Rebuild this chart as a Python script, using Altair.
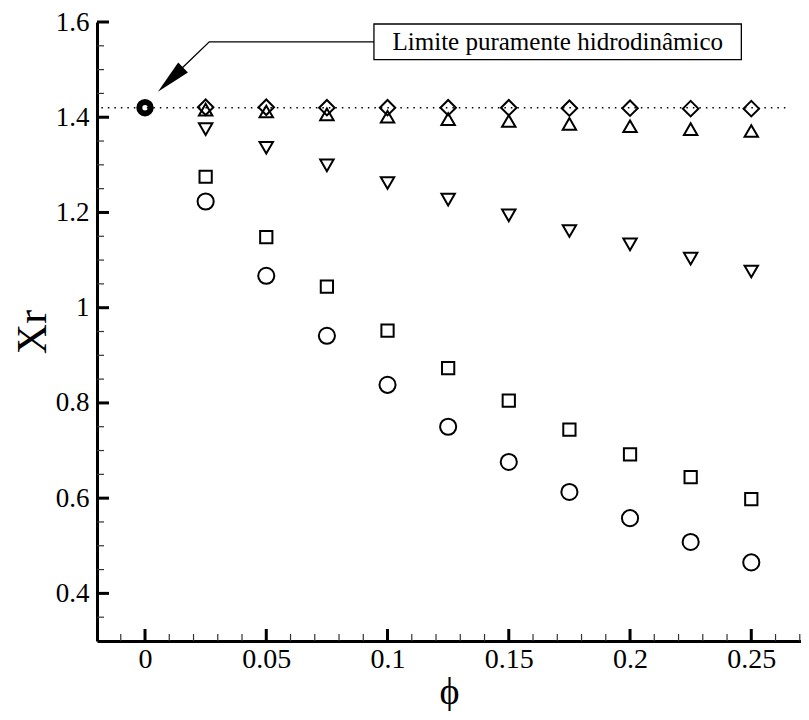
import altair as alt
import pandas as pd

# ---- data ----
phi = [0.025, 0.05, 0.075, 0.1, 0.125, 0.15, 0.175, 0.2, 0.225, 0.25]
xr_circle = [1.223, 1.067, 0.941, 0.838, 0.750, 0.676, 0.613, 0.558, 0.508, 0.465]
xr_square = [1.275, 1.148, 1.044, 0.952, 0.873, 0.805, 0.744, 0.692, 0.644, 0.598]
xr_tri_down = [1.375, 1.336, 1.299, 1.262, 1.227, 1.194, 1.161, 1.133, 1.103, 1.076]
xr_tri_up = [1.416, 1.412, 1.406, 1.401, 1.396, 1.392, 1.386, 1.381, 1.375, 1.371]
xr_diamond = [1.421, 1.421, 1.420, 1.420, 1.420, 1.420, 1.419, 1.419, 1.418, 1.418]

origin_x = [0.0]
origin_y = [1.42]
limit_x = [-0.018, 0.265]
limit_y = [1.42, 1.42]

x_major = [0, 0.05, 0.1, 0.15, 0.2, 0.25]
x_minor = [-0.01, 0.01, 0.02, 0.03, 0.04, 0.06, 0.07, 0.08, 0.09, 0.11, 0.12,
           0.13, 0.14, 0.16, 0.17, 0.18, 0.19, 0.21, 0.22, 0.23, 0.24, 0.26, 0.27]
y_major = [0.4, 0.6, 0.8, 1.0, 1.2, 1.4, 1.6]
y_minor = [0.35, 0.45, 0.5, 0.55, 0.65, 0.7, 0.75, 0.85, 0.9, 0.95, 1.05, 1.1,
           1.15, 1.25, 1.3, 1.35, 1.45, 1.5, 1.55]

annot_text = "Limite puramente hidrodinâmico"
box_x = [0.0944, 0.2459]
box_y = [1.5958, 1.5208]
text_pos = [0.1702, 1.5583]
leader_x = [0.0944, 0.0265, 0.0154]
leader_y = [1.5583, 1.5583, 1.504]
head_pos = [0.0105, 1.479]

X_DOMAIN = [-0.0198, 0.2705]
Y_DOMAIN = [0.3, 1.6]
W, H = 704, 619
FONT = "Liberation Serif, Times New Roman, serif"

xs = alt.Scale(domain=X_DOMAIN, nice=False, zero=False)
ys = alt.Scale(domain=Y_DOMAIN, nice=False, zero=False)

xaxis = alt.Axis(values=x_major, format="~g", labelFont=FONT, labelFontSize=28,
                 labelColor="black", labelPadding=4, labelOverlap=False, labelFlush=False,
                 domainColor="black", domainWidth=3, ticks=False, grid=False,
                 title="ϕ", titleFont=FONT, titleFontSize=38, titleFontWeight="normal",
                 titleColor="black", titlePadding=0)
yaxis = alt.Axis(values=y_major, format="~g", labelFont=FONT, labelFontSize=27,
                 labelColor="black", labelPadding=8, labelOverlap=False, labelFlush=False,
                 domainColor="black", domainWidth=3, ticks=False, grid=False,
                 title="Xr", titleFont=FONT, titleFontSize=42, titleFontWeight="normal",
                 titleColor="black", titlePadding=1)


def X(f="x"):
    return alt.X(f, type="quantitative", scale=xs, axis=xaxis)


def Y(f="y"):
    return alt.Y(f, type="quantitative", scale=ys, axis=yaxis)


layers = []

# dotted hydrodynamic limit line
lim = pd.DataFrame({"x": [limit_x[0]], "x2": [limit_x[1]], "y": [limit_y[0]]})
layers.append(alt.Chart(lim).mark_rule(color="black", strokeWidth=1.5, strokeDash=[1.5, 5])
              .encode(x=X(), x2=alt.X2("x2"), y=Y()))

series = [
    (xr_circle, "circle", 260),
    (xr_square, "square", 150),
    (xr_tri_down, "triangle-down", 180),
    (xr_tri_up, "triangle-up", 180),
    (xr_diamond, "diamond", 240),
]
for vals, shape, size in series:
    df = pd.DataFrame({"x": phi, "y": vals})
    layers.append(alt.Chart(df).mark_point(shape=shape, size=size, filled=False,
                                           color="black", strokeWidth=2, opacity=1)
                  .encode(x=X(), y=Y()))

# bold origin point
org = pd.DataFrame({"x": origin_x, "y": origin_y})
layers.append(alt.Chart(org).mark_point(shape="circle", size=130, filled=False,
                                        color="black", strokeWidth=6, opacity=1)
              .encode(x=X(), y=Y()))

# inward ticks
ymaj = pd.DataFrame({"y": y_major})
ymin = pd.DataFrame({"y": y_minor})
xmaj = pd.DataFrame({"x": x_major})
xmin = pd.DataFrame({"x": x_minor})
layers.append(alt.Chart(ymaj).mark_rule(color="black", strokeWidth=3)
              .encode(y=Y(), x=alt.value(0), x2=alt.value(12)))
layers.append(alt.Chart(ymin).mark_rule(color="#333", strokeWidth=1.2)
              .encode(y=Y(), x=alt.value(0), x2=alt.value(7)))
layers.append(alt.Chart(xmaj).mark_rule(color="black", strokeWidth=3)
              .encode(x=X(), y=alt.value(H), y2=alt.value(H - 12)))
layers.append(alt.Chart(xmin).mark_rule(color="#333", strokeWidth=1.2)
              .encode(x=X(), y=alt.value(H), y2=alt.value(H - 7)))

# annotation
lead = pd.DataFrame({"x": leader_x, "y": leader_y, "o": [0, 1, 2]})
layers.append(alt.Chart(lead).mark_line(color="black", strokeWidth=1.3)
              .encode(x=X(), y=Y(), order="o:Q"))
head = pd.DataFrame({"x": [head_pos[0]], "y": [head_pos[1]]})
layers.append(alt.Chart(head).mark_point(shape="M0,-1L0.4,1L-0.4,1Z", size=1225, filled=True,
                                         color="black", opacity=1, angle=226)
              .encode(x=X(), y=Y()))
box = pd.DataFrame({"x": [box_x[0]], "x2": [box_x[1]], "y": [box_y[0]], "y2": [box_y[1]]})
layers.append(alt.Chart(box).mark_rect(fill="white", stroke="black", strokeWidth=1.3)
              .encode(x=X(), x2=alt.X2("x2"), y=Y(), y2=alt.Y2("y2")))
txt = pd.DataFrame({"x": [text_pos[0]], "y": [text_pos[1]], "t": [annot_text]})
layers.append(alt.Chart(txt).mark_text(font=FONT, fontSize=25, color="black",
                                       align="center", baseline="middle")
              .encode(x=X(), y=Y(), text="t:N"))

chart = alt.layer(*layers).properties(
    width=W, height=H,
    autosize=alt.AutoSizeParams(type="none"),
    padding={"left": 89, "top": 14, "right": 0, "bottom": 70},
    background="white",
).configure_view(stroke=None)

chart.save("out.html", embed_options={"renderer": "svg", "actions": False})
